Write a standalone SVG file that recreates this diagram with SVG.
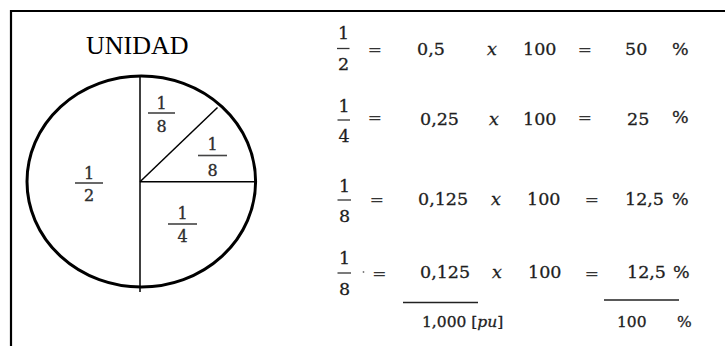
<svg xmlns="http://www.w3.org/2000/svg" width="725" height="346" viewBox="0 0 725 346">
<style>
.t{font-family:"DejaVu Serif","Liberation Serif",serif;font-size:17.5px;fill:#1e1e1e;stroke:#1e1e1e;stroke-width:0.3}
.e{stroke:none;fill:#333}
.i{font-style:italic}
.m{text-anchor:middle}
.p{font-family:"DejaVu Serif","Liberation Serif",serif;font-size:16px;fill:#2e2e2e;stroke:#2e2e2e;stroke-width:0.35;text-anchor:middle}
.bar{stroke:#333;stroke-width:1.3}
.pbar{stroke:#444;stroke-width:1.6}
.ln{stroke:#000;stroke-width:1.5;fill:none}
</style>
<rect width="725" height="346" fill="#fff"/>
<g id="frame">
<path d="M11 346 V11 H725" fill="none" stroke="#000" stroke-width="2.2"/>
</g>
<g id="title">
<text x="86" y="54" style="font-family:'Liberation Serif',serif;font-size:26px;fill:#000">UNIDAD</text>
</g>
<g id="pie">
<ellipse cx="141.3" cy="181.5" rx="114.3" ry="105.5" fill="none" stroke="#000" stroke-width="3"/>
<line class="ln" x1="140" y1="76" x2="140" y2="292"/>
<line class="ln" x1="140" y1="181.7" x2="256" y2="181.7"/>
<line class="ln" x1="140" y1="181.7" x2="217.5" y2="107.5"/>
</g>
<g id="pie-labels">
<text class="p" x="161.5" y="108.5">1</text><line class="pbar" x1="148" y1="113" x2="175" y2="113"/><text class="p" x="161.5" y="131.5">8</text>
<text class="p" x="212.5" y="150">1</text><line class="pbar" x1="198" y1="155.5" x2="227" y2="155.5"/><text class="p" x="212.5" y="175.5">8</text>
<text class="p" x="89" y="178.5">1</text><line class="pbar" x1="75" y1="183" x2="103" y2="183"/><text class="p" x="89" y="201">2</text>
<text class="p" x="182.5" y="219">1</text><line class="pbar" x1="168" y1="224" x2="197" y2="224"/><text class="p" x="182.5" y="242">4</text>
</g>
<g id="row1">
<text class="t m" x="343.5" y="38.5">1</text><line class="bar" x1="337" y1="48.5" x2="349.5" y2="48.5"/><text class="t m" x="343.5" y="70">2</text>
<text class="t e" x="367.5" y="55">=</text>
<text class="t" x="417" y="55">0,5</text>
<text class="t i" x="487" y="55">x</text>
<text class="t" x="523" y="55">100</text>
<text class="t e" x="577.5" y="55">=</text>
<text class="t" x="625" y="55">50</text>
<text class="t" x="672" y="55">%</text>
</g>
<g id="row2">
<text class="t m" x="344" y="112">1</text><line class="bar" x1="337.5" y1="120" x2="350" y2="120"/><text class="t m" x="344" y="142">4</text>
<text class="t e" x="367.5" y="123">=</text>
<text class="t" x="420" y="125">0,25</text>
<text class="t i" x="489" y="125">x</text>
<text class="t" x="523" y="125">100</text>
<text class="t e" x="577.5" y="123">=</text>
<text class="t" x="627" y="125">25</text>
<text class="t" x="672" y="123">%</text>
</g>
<g id="row3">
<text class="t m" x="344.5" y="192">1</text><line class="bar" x1="337.5" y1="200" x2="351" y2="200"/><text class="t m" x="344.5" y="222">8</text>
<text class="t e" x="369.5" y="205">=</text>
<text class="t" x="418" y="205">0,125</text>
<text class="t i" x="491" y="205">x</text>
<text class="t" x="527" y="205">100</text>
<text class="t e" x="584.5" y="205">=</text>
<text class="t" x="625" y="205">12,5</text>
<text class="t" x="672" y="205">%</text>
</g>
<g id="row4">
<text class="t m" x="344.5" y="264">1</text><line class="bar" x1="337.5" y1="273" x2="351" y2="273"/><text class="t m" x="344.5" y="295">8</text>
<circle cx="363.5" cy="272" r="0.9" fill="#777"/>
<text class="t e" x="372" y="279">=</text>
<text class="t" x="420" y="278">0,125</text>
<text class="t i" x="492" y="278">x</text>
<text class="t" x="528" y="278">100</text>
<text class="t e" x="584.5" y="279">=</text>
<text class="t" x="627" y="278">12,5</text>
<text class="t" x="673" y="278">%</text>
</g>
<g id="totals">
<line x1="403" y1="302.5" x2="478" y2="302.5" stroke="#222" stroke-width="1.3"/>
<line x1="604" y1="300" x2="679" y2="300" stroke="#222" stroke-width="1.3"/>
<text class="t" x="422" y="327" style="font-size:15.5px">1,000 [<tspan class="i">pu</tspan>]</text>
<text class="t" x="617" y="327" style="font-size:15.5px">100</text>
<text class="t" x="677" y="327" style="font-size:15.5px">%</text>
</g>
</svg>
